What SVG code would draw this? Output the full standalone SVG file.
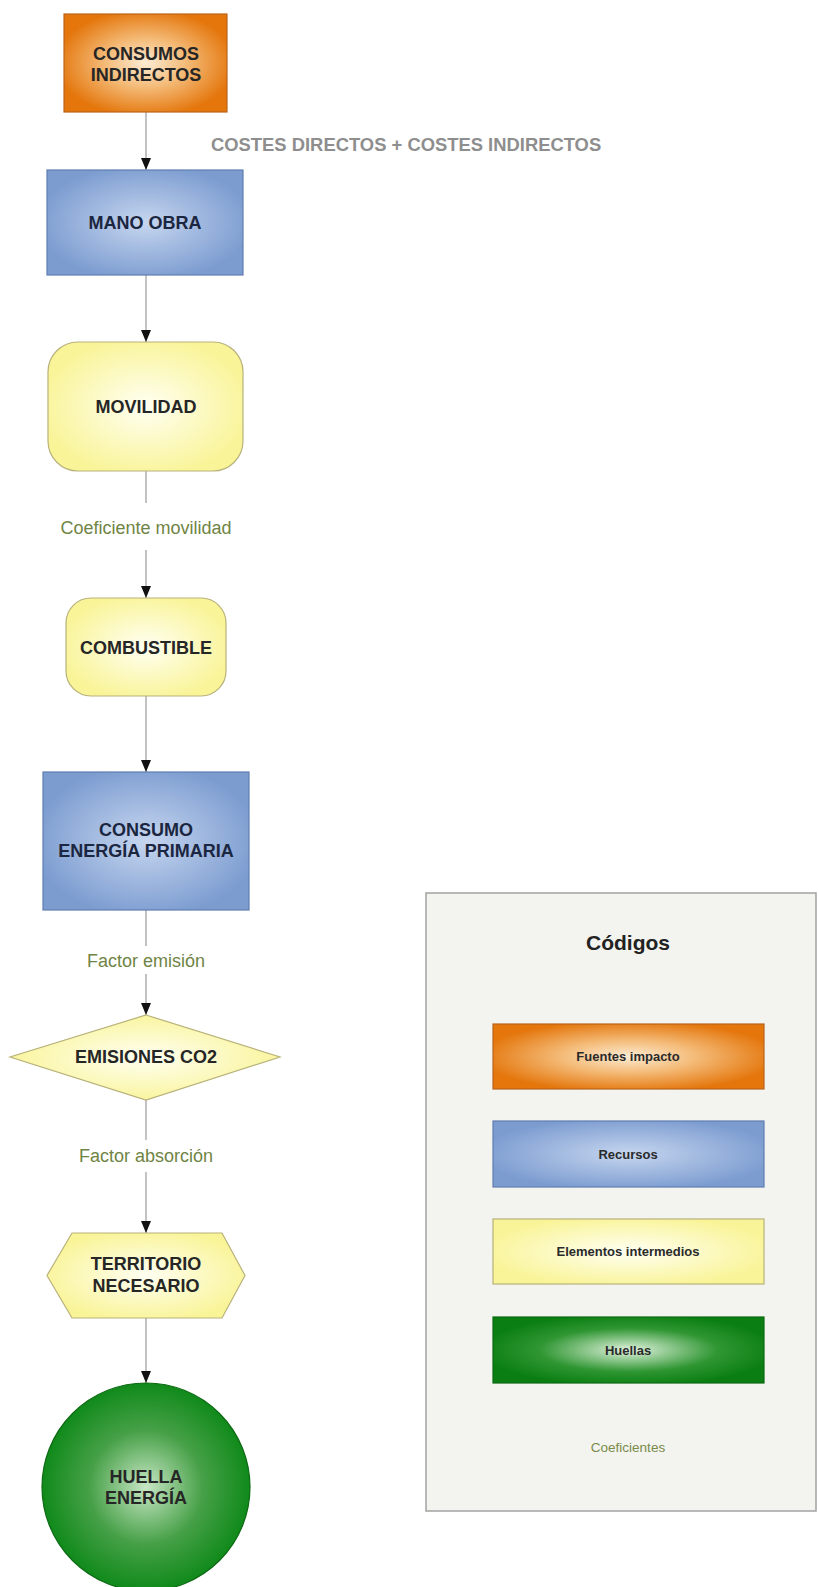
<svg xmlns="http://www.w3.org/2000/svg" width="818" height="1587" viewBox="0 0 818 1587">
<defs>
<radialGradient id="gOrange" cx="50%" cy="50%" r="55%">
<stop offset="0" stop-color="#fcebd3"/>
<stop offset="0.45" stop-color="#f4bb78"/>
<stop offset="1" stop-color="#e4760c"/>
</radialGradient>
<radialGradient id="gBlue" cx="50%" cy="50%" r="55%">
<stop offset="0" stop-color="#c6d6ef"/>
<stop offset="1" stop-color="#7c9cd0"/>
</radialGradient>
<radialGradient id="gYellow" cx="50%" cy="50%" r="55%">
<stop offset="0" stop-color="#fffff2"/>
<stop offset="1" stop-color="#f9f497"/>
</radialGradient>
<radialGradient id="gGreen" cx="50%" cy="50%" r="50%">
<stop offset="0" stop-color="#c8e6c5"/>
<stop offset="0.55" stop-color="#46a047"/>
<stop offset="1" stop-color="#108a1a"/>
</radialGradient>
<radialGradient id="gGreenL" cx="50%" cy="50%" r="55%">
<stop offset="0" stop-color="#e2f3df"/>
<stop offset="0.6" stop-color="#2f9632"/>
<stop offset="1" stop-color="#0a7e12"/>
</radialGradient>
<marker id="arr" viewBox="0 0 12 10" refX="12" refY="5" markerWidth="12" markerHeight="10" markerUnits="userSpaceOnUse" orient="auto">
<path d="M0,0 L12,5 L0,10 Z" fill="#111"/>
</marker>
</defs>
<style>
.lbl{font-family:"Liberation Sans",Arial,sans-serif;font-weight:bold;font-size:18px;text-anchor:middle;fill:#262626}
.lblb{font-family:"Liberation Sans",Arial,sans-serif;font-weight:bold;font-size:18px;text-anchor:middle;fill:#1b2640}
.coef{font-family:"Liberation Sans",Arial,sans-serif;font-size:18px;text-anchor:middle;fill:#6f8444}
.cost{font-family:"Liberation Sans",Arial,sans-serif;font-weight:bold;font-size:18.4px;fill:#8e8e8e}
.leg{font-family:"Liberation Sans",Arial,sans-serif;font-weight:bold;font-size:13px;text-anchor:middle;fill:#2a2a2a}
.conn{stroke:#9a9a9a;stroke-width:1.2;fill:none}
.or{fill:url(#gOrange);stroke:#b9641c;stroke-width:1.2}
.bl{fill:url(#gBlue);stroke:#5f7db0;stroke-width:1.2}
.ye{fill:url(#gYellow);stroke:#b8b27a;stroke-width:1.2}
</style>
<rect width="818" height="1587" fill="#ffffff"/>

<g id="connectors">
<line class="conn" x1="146" y1="112" x2="146" y2="170" marker-end="url(#arr)"/>
<line class="conn" x1="146" y1="275" x2="146" y2="342" marker-end="url(#arr)"/>
<line class="conn" x1="146" y1="471" x2="146" y2="503"/>
<line class="conn" x1="146" y1="550" x2="146" y2="598" marker-end="url(#arr)"/>
<line class="conn" x1="146" y1="696" x2="146" y2="772" marker-end="url(#arr)"/>
<line class="conn" x1="146" y1="910" x2="146" y2="946"/>
<line class="conn" x1="146" y1="974" x2="146" y2="1015" marker-end="url(#arr)"/>
<line class="conn" x1="146" y1="1100" x2="146" y2="1140"/>
<line class="conn" x1="146" y1="1172" x2="146" y2="1233" marker-end="url(#arr)"/>
<line class="conn" x1="146" y1="1318" x2="146" y2="1383" marker-end="url(#arr)"/>
<text class="cost" x="211" y="150.5">COSTES DIRECTOS + COSTES INDIRECTOS</text>
<text class="coef" x="146" y="533.5">Coeficiente movilidad</text>
<text class="coef" x="146" y="966.5">Factor emisión</text>
<text class="coef" x="146" y="1161.5">Factor absorción</text>
</g>

<g id="consumos-indirectos">
<rect class="or" x="64" y="14" width="163" height="98"/>
<text class="lbl" x="146" y="59.5">CONSUMOS</text>
<text class="lbl" x="146" y="80.5">INDIRECTOS</text>
</g>

<g id="mano-obra">
<rect class="bl" x="47" y="170" width="196" height="105"/>
<text class="lblb" x="145" y="228.5">MANO OBRA</text>
</g>

<g id="movilidad">
<rect class="ye" x="48" y="342" width="195" height="129" rx="30" ry="30"/>
<text class="lbl" x="146" y="412.5">MOVILIDAD</text>
</g>

<g id="combustible">
<rect class="ye" x="66" y="598" width="160" height="98" rx="25" ry="25"/>
<text class="lbl" x="146" y="653.5">COMBUSTIBLE</text>
</g>

<g id="consumo-energia">
<rect class="bl" x="43" y="772" width="206" height="138"/>
<text class="lblb" x="146" y="835.5">CONSUMO</text>
<text class="lblb" x="146" y="856.5">ENERGÍA PRIMARIA</text>
</g>

<g id="emisiones-co2">
<polygon class="ye" points="146,1015 280,1057 146,1100 10,1057"/>
<text class="lbl" x="146" y="1063">EMISIONES CO2</text>
</g>

<g id="territorio">
<polygon class="ye" points="72,1233 222,1233 245,1275.5 222,1318 72,1318 47,1275.5"/>
<text class="lbl" x="146" y="1270">TERRITORIO</text>
<text class="lbl" x="146" y="1292">NECESARIO</text>
</g>

<g id="huella-energia">
<circle cx="146" cy="1487" r="104" fill="url(#gGreen)" stroke="#0d6a14" stroke-width="1.2"/>
<text class="lbl" x="146" y="1482.5">HUELLA</text>
<text class="lbl" x="146" y="1503.5">ENERGÍA</text>
</g>

<g id="legend">
<rect x="426" y="893" width="390" height="618" fill="#f3f3ef" stroke="#a2a2a2" stroke-width="1.5"/>
<text x="628" y="949.5" font-family="Liberation Sans, Arial, sans-serif" font-weight="bold" font-size="21" text-anchor="middle" fill="#222">Códigos</text>
<rect class="or" x="493" y="1024" width="271" height="65"/>
<text class="leg" x="628" y="1061">Fuentes impacto</text>
<rect class="bl" x="493" y="1121" width="271" height="66"/>
<text class="leg" x="628" y="1158.5" fill="#1b2640">Recursos</text>
<rect class="ye" x="493" y="1219" width="271" height="65"/>
<text class="leg" x="628" y="1256">Elementos intermedios</text>
<rect x="493" y="1317" width="271" height="66" fill="url(#gGreenL)" stroke="#0a6a12" stroke-width="1.2"/>
<text class="leg" x="628" y="1354.5">Huellas</text>
<text x="628" y="1452" font-family="Liberation Sans, Arial, sans-serif" font-size="13.5" text-anchor="middle" fill="#7a8a4a">Coeficientes</text>
</g>
</svg>
